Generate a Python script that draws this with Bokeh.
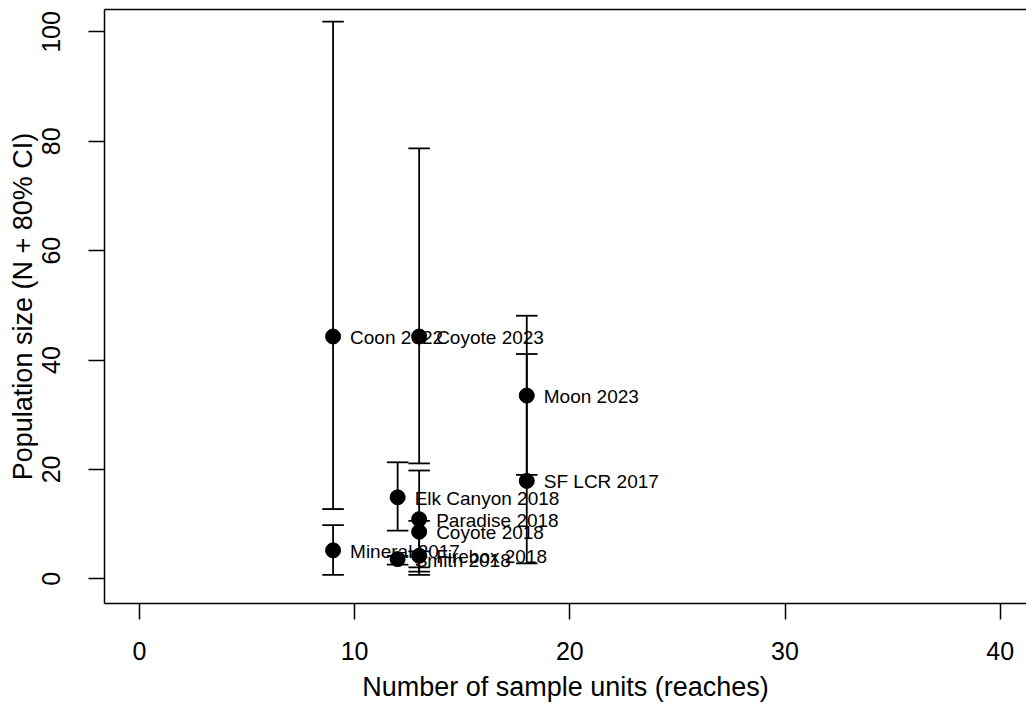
from bokeh.plotting import figure
from bokeh.models import Range1d, LinearAxis, FixedTicker, ColumnDataSource
from bokeh.core.properties import value
from bokeh.embed import file_html
from bokeh.resources import INLINE

# ---- data ----
site_labels = ["Coon 2022", "Coyote 2023", "Moon 2023", "SF LCR 2017", "Elk Canyon 2018",
               "Paradise 2018", "Coyote 2018", "Mineral 2017", "Firebox 2018", "Smith 2018"]
sample_units = [9, 13, 18, 18, 12, 13, 13, 9, 13, 12]
pop_size = [44.3, 44.3, 33.5, 17.9, 14.9, 10.9, 8.6, 5.2, 4.2, 3.6]
ci_lower = [12.75, 21.1, 19.0, 2.8, 8.8, 2.1, 1.3, 0.7, 0.7, 2.6]
ci_upper = [101.9, 78.7, 48.1, 41.1, 21.3, 19.8, 10.6, 9.8, 5.0, 4.2]
x_ticks = [0, 10, 20, 30, 40]
y_ticks = [0, 20, 40, 60, 80, 100]

FONT = "Liberation Sans"
cap_half = 0.5

src = ColumnDataSource(dict(
    x=sample_units, n=pop_size, lo=ci_lower, hi=ci_upper, label=site_labels,
    x0=[v - cap_half for v in sample_units], x1=[v + cap_half for v in sample_units],
))

p = figure(width=1026, height=706, output_backend="svg", toolbar_location=None,
           x_range=Range1d(-1.62, 41.22), y_range=Range1d(-4.52, 104.1),
           min_border_left=104, min_border_right=0, min_border_top=9, min_border_bottom=103,
           background_fill_color="white", border_fill_color="white")
p.outline_line_color = None
p.xgrid.grid_line_color = None
p.ygrid.grid_line_color = None

# axes
for ax in (p.xaxis[0], p.yaxis[0]):
    ax.axis_line_color = "black"
    ax.axis_line_width = 1.5
    ax.major_tick_line_color = "black"
    ax.major_tick_line_width = 1.5
    ax.major_tick_in = 0
    ax.major_tick_out = 16
    ax.minor_tick_line_color = None
    ax.major_label_text_font = FONT
    ax.major_label_text_font_size = "25px"
    ax.major_label_text_color = "black"
    ax.axis_label_text_font = FONT
    ax.axis_label_text_font_size = "27px"
    ax.axis_label_text_font_style = "normal"
    ax.axis_label_text_color = "black"

p.xaxis[0].ticker = FixedTicker(ticks=x_ticks)
p.yaxis[0].ticker = FixedTicker(ticks=y_ticks)
p.xaxis[0].axis_label = "Number of sample units (reaches)"
p.yaxis[0].axis_label = "Population size (N + 80% CI)"
p.xaxis[0].major_label_standoff = 22
p.xaxis[0].axis_label_standoff = 9
p.yaxis[0].major_label_orientation = "vertical"
p.yaxis[0].major_label_standoff = 28
p.yaxis[0].axis_label_standoff = 2

# top border line
top = LinearAxis(ticker=FixedTicker(ticks=[]), major_label_text_font_size="0px",
                 major_tick_out=0, major_tick_in=0, minor_tick_out=0, minor_tick_in=0,
                 axis_line_color="black", axis_line_width=1.5)
p.add_layout(top, "above")

# labels
p.text(x="x", y="n", text="label", source=src, x_offset=17, y_offset=1,
       text_align="left", text_baseline="middle",
       text_font=value(FONT), text_font_size="19px", text_color="black")

# error bars
p.segment(x0="x", y0="lo", x1="x", y1="hi", source=src, line_color="black", line_width=1.8)
p.segment(x0="x0", y0="lo", x1="x1", y1="lo", source=src, line_color="black", line_width=1.8)
p.segment(x0="x0", y0="hi", x1="x1", y1="hi", source=src, line_color="black", line_width=1.8)

# points
p.scatter(x="x", y="n", source=src, size=15, marker="circle",
          fill_color="black", line_color="black")

open("out.html", "w").write(file_html(p, INLINE))
